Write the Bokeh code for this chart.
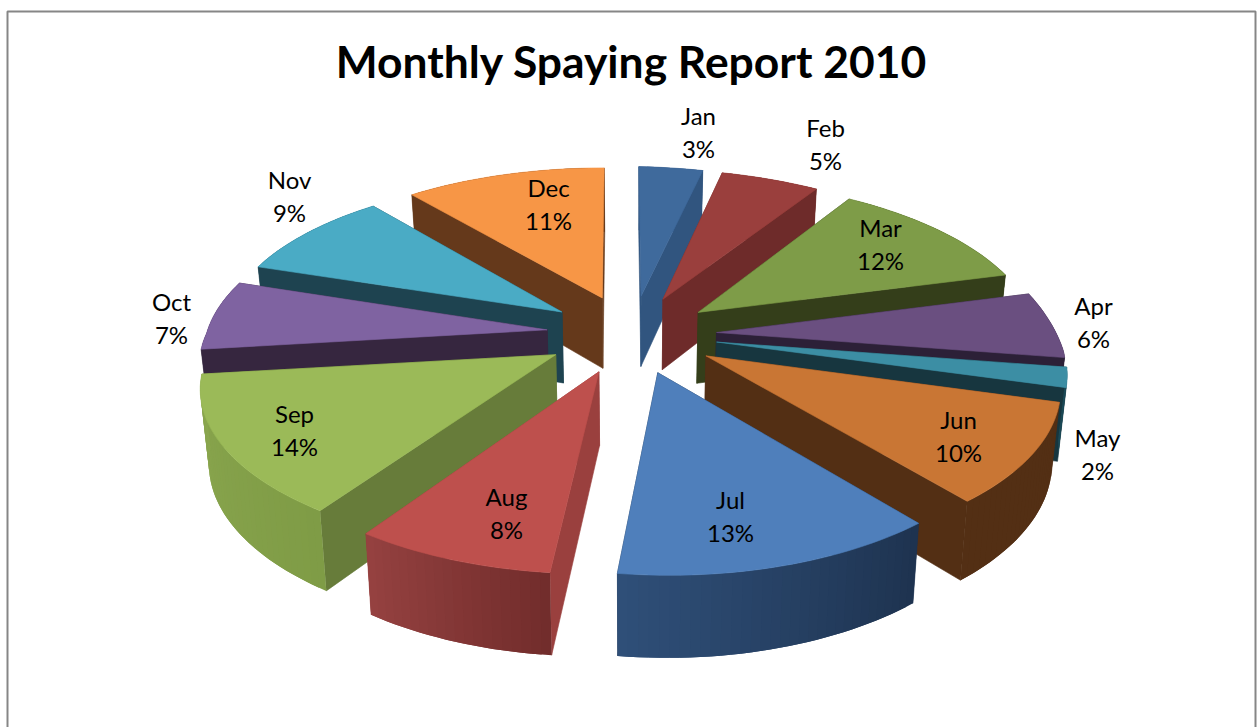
import math
from bokeh.plotting import figure
from bokeh.core.properties import value
from bokeh.embed import file_html
from bokeh.resources import INLINE

# ---- data ----
months = ["Jan", "Feb", "Mar", "Apr", "May", "Jun", "Jul", "Aug", "Sep", "Oct", "Nov", "Dec"]
# shares; the printed labels are these rounded
percent = [3.45, 5.3, 11.6, 5.65, 2.0, 10.0, 13.0, 8.0, 14.0, 7.0, 9.0, 11.0]
percent_labels = ["3%", "5%", "12%", "6%", "2%", "10%", "13%", "8%", "14%", "7%", "9%", "11%"]
title_text = "Monthly Spaying Report 2010"

# ---- styles ----
top_colors = ["#3F6A9C", "#9A3F3D", "#7E9C48", "#6A4F80", "#3C8EA4", "#C97634",
              "#4F7FBB", "#BE504D", "#9BBA58", "#7F63A1", "#4AABC5", "#F79646"]
wall_colors = ["#31557F", "#6E2B2A", "#343E1A", "#2C2037", "#17363F", "#532F14",
               "#1E3350", "#9A403E", "#677C3A", "#36263F", "#1E4350", "#65391B"]
outer_a = ["#31557F", "#6E2B2A", "#343E1A", "#2C2037", "#1C4A57", "#532F14",
           "#1E3350", "#722D2C", "#7F9C46", "#36263F", "#1E4350", "#65391B"]
outer_b = ["#31557F", "#6E2B2A", "#343E1A", "#2C2037", "#1C4A57", "#532F14",
           "#2F4F78", "#954140", "#8AA64E", "#36263F", "#1E4350", "#65391B"]
label_x = [698, 825, 880, 1093, 1097, 958, 730, 506, 294, 171, 289, 548]
label_y = [115, 127, 227, 305, 437, 419, 499, 496, 413, 301, 179, 187]

# ---- view geometry ----
W, H = 1259, 727
CX, CY = 632, 333
RADIUS, EXPLODE, DEPTH = 347, 85, 72


def project(u, v, bottom=False):
    s = 1 / (1 + 0.00035 * v)
    shift = 0.055 * v if v < 0 else 0.0
    x = CX + u * s + shift - 1.5 * max(v, 0) / 430
    tilt = 1 - v / 600 if v < 0 else 1 - 0.6 * min(v, 125) / 125
    y = CY - 0.459 * v / (1 + 0.00043 * v) + 0.043 * max(u, 0) * min(1, tilt)
    if u < 0:
        x += 8 * (-u / 430) * max(0, 1 - abs(v) / 430) - 2.5
        if v < 0:
            y -= 0.018 * (-u) * (-v / 340)
        else:
            x += 5 * (-u / 250) * (v / 347)
    else:
        if v > 0:
            x -= 6 * (u / 400) * (min(v, 150) / 150)
        else:
            x += 3 * (u / 266) * (-v / 333)
    if bottom:
        y += DEPTH / (1 + 0.0003 * v)
        x += (CX - x) * 0.02
    return x, y


def mix(a, b, t):
    ca = [int(a[i:i + 2], 16) for i in (1, 3, 5)]
    cb = [int(b[i:i + 2], 16) for i in (1, 3, 5)]
    return "#%02x%02x%02x" % tuple(round(p + (q - p) * t) for p, q in zip(ca, cb))


total = sum(percent)
slices = []
acc = 0
for i, pc in enumerate(percent):
    a0 = acc / total * 2 * math.pi
    acc += pc
    a1 = acc / total * 2 * math.pi
    mid = (a0 + a1) / 2
    ou, ov = EXPLODE * math.sin(mid), EXPLODE * math.cos(mid)
    slices.append((i, a0, a1, ou, ov))

# painter's order, far to near, with the neighbours resolved as seen
order = [0, 11, 1, 10, 2, 9, 3, 4, 5, 8, 7, 6]

xs, ys, fills, stroke_alpha = [], [], [], []


def add(points, color, stroke=1.0):
    xs.append([p[0] for p in points])
    ys.append([p[1] for p in points])
    fills.append(color)
    stroke_alpha.append(stroke)


for idx in order:
    i, a0, a1, ou, ov = slices[idx]
    n = max(6, int((a1 - a0) * 40))
    angs = [a0 + (a1 - a0) * k / n for k in range(n + 1)]
    rim = [(ou + RADIUS * math.sin(t), ov + RADIUS * math.cos(t)) for t in angs]

    faces = []
    for end in (rim[0], rim[-1]):
        poly = [project(ou, ov), project(*end), project(*end, True), project(ou, ov, True)]
        faces.append(((ov + end[1]) / 2, "radial", poly))
    faces.append((sum(r[1] for r in rim) / len(rim), "outer", None))
    faces.sort(key=lambda f: -f[0])

    for _, kind, poly in faces:
        if kind == "radial":
            add(poly, wall_colors[i])
        else:
            # every strip reaches under the next one, so no seams show
            for k in range(n):
                span = rim[k:k + 3]
                q = [project(*r) for r in span] + [project(*r, True) for r in reversed(span)]
                add(q, mix(outer_a[i], outer_b[i], k / max(1, n - 1)), 0.0)
    top = [project(ou, ov)] + [project(*r) for r in rim]
    add(top, top_colors[i])

p = figure(width=W, height=H, x_range=(0, W), y_range=(H, 0),
           toolbar_location=None, output_backend="svg", min_border=0,
           outline_line_color=None, background_fill_color="white",
           border_fill_color="white", x_axis_type=None, y_axis_type=None,
           styles={"position": "absolute", "left": "0px", "top": "0px"})
p.grid.visible = False

p.patches(xs, ys, fill_color=fills, line_color=fills, line_alpha=stroke_alpha, line_width=0.6)

# chart frame
p.line([7, 7, 1255, 1255], [H, 11, 11, H], line_color="#868686", line_width=2)

p.text([631], [60], text=[title_text], text_font=value("Lato"), text_font_style="bold",
       text_font_size="44.4px", text_align="center", text_baseline="middle", text_color="black")

p.text(label_x, label_y, text=months, text_font=value("Lato"), text_font_size="24px",
       text_align="center", text_baseline="middle", text_color="black")
p.text(label_x, [y + 33 for y in label_y], text=percent_labels, text_font=value("Lato"), text_font_size="24px",
       text_align="center", text_baseline="middle", text_color="black")

open("out.html", "w").write(file_html(p, INLINE))
